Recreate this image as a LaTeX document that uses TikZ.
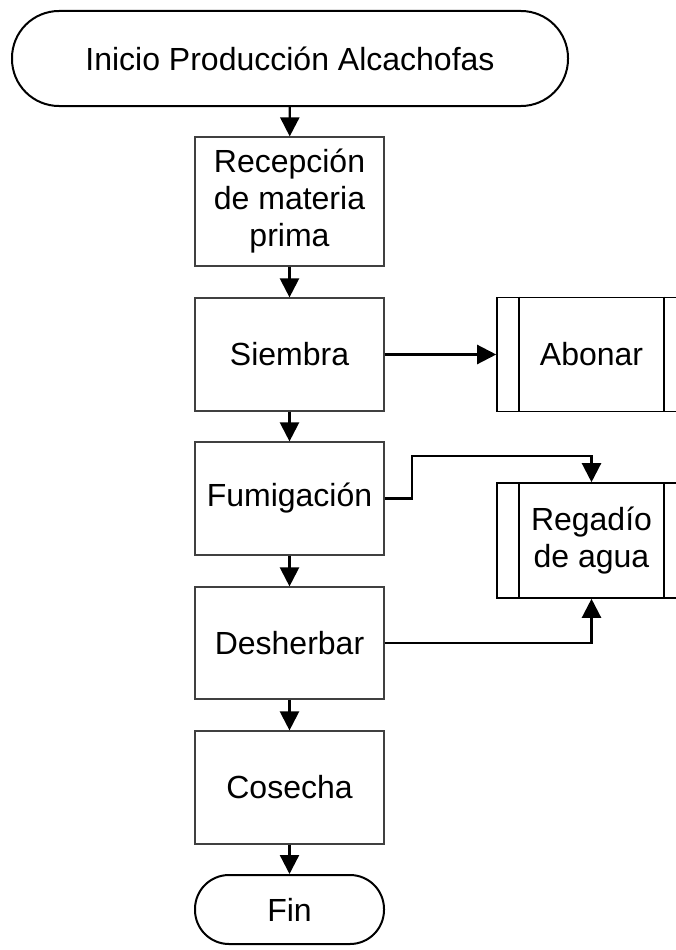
\documentclass[tikz,border=0pt]{standalone}
\usepackage{fontspec}
\setmainfont{Liberation Sans}
\usetikzlibrary{arrows.meta}
\begin{document}
\begin{tikzpicture}[x=1pt,y=-1pt,
  every node/.style={font=\fontsize{32}{37}\selectfont, inner sep=0pt, align=center},
  procbox/.style={draw=black!75, line width=1.2pt, minimum width=189pt},
  termbox/.style={draw=black, line width=2pt},
  subproc/.style={draw=black, line width=1.6pt, minimum width=189pt},
  conn/.style={draw=black, line width=2.3pt, -{Triangle[length=19pt,width=19pt]}}
]
\useasboundingbox (0,0) rectangle (676,950);
\node[termbox, minimum width=556pt, minimum height=95pt, rounded corners=47pt] (start) at (290,58.5) {Inicio Producción Alcachofas};
\node[procbox, minimum height=129pt] (rec) at (289.5,201.5) {Recepción\\de materia\\prima};
\node[procbox, minimum height=113pt] (sie) at (289.5,354.5) {Siembra};
\node[procbox, minimum height=113pt] (fum) at (289.5,498.5) {Fumigación};
\node[procbox, minimum height=112pt] (des) at (289.5,643) {Desherbar};
\node[procbox, minimum height=113pt] (cos) at (289.5,787.5) {Cosecha};
\node[termbox, minimum width=189pt, minimum height=69pt, rounded corners=34pt] (fin) at (289.5,909.5) {Fin};
\node[subproc, minimum height=114pt] (abo) at (591.5,354.5) {Abonar};
\node[subproc, minimum height=115pt] (reg) at (591.5,540.5) {Regadío\\de agua};
\foreach \n in {abo,reg}{
  \draw[black, line width=1.6pt] ([xshift=23pt]\n.north west) -- ([xshift=23pt]\n.south west);
  \draw[black, line width=1.6pt] ([xshift=-23pt]\n.north east) -- ([xshift=-23pt]\n.south east);
}
\draw[conn] (start) -- (rec);
\draw[conn] (rec) -- (sie);
\draw[conn] (sie) -- (fum);
\draw[conn] (fum) -- (des);
\draw[conn] (des) -- (cos);
\draw[conn] (cos) -- (fin);
\draw[conn] (sie.east) -- (sie.east -| abo.west);
\coordinate (k1) at (412,498.5);
\coordinate (k2) at (412,456);
\draw[conn] (fum.east) -- (k1) -- (k2) -- (k2 -| reg) -- (reg.north);
\draw[conn] (des.east) -- (des.east -| reg) -- (reg.south);
\end{tikzpicture}
\end{document}
